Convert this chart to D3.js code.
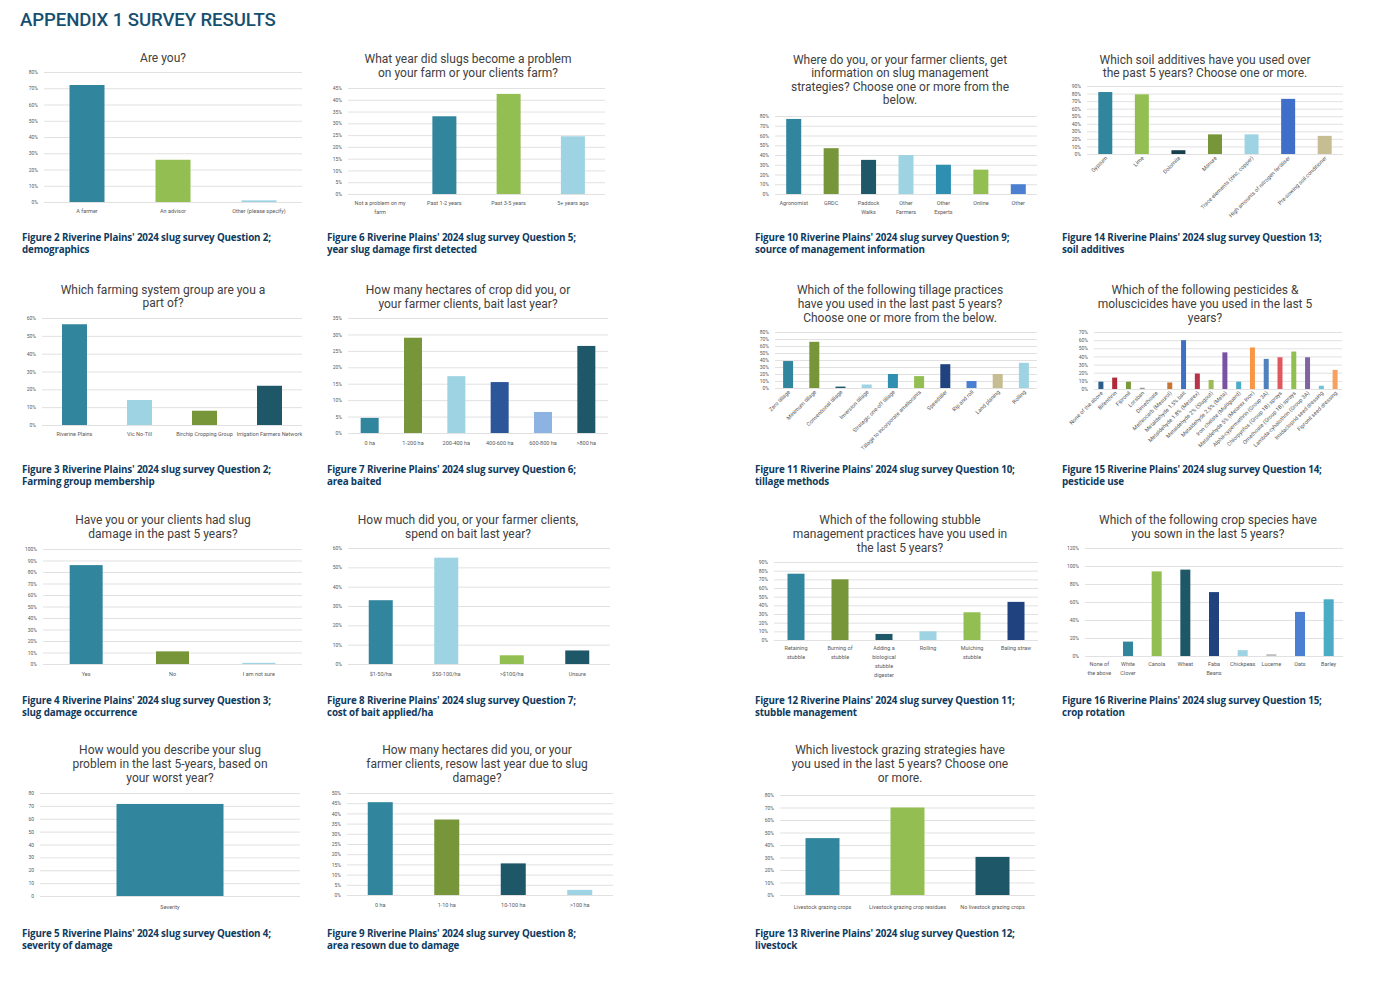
<!DOCTYPE html>
<meta charset="utf-8">
<head>
  <style>
    body { margin: 0; background: #fff; }
    svg text { font-family: Roboto, "Open Sans", sans-serif; }
    .main-title { font-size: 18.6px; font-weight: 500; fill: #174f70; letter-spacing: -0.1px; }
    .ttl { font-size: 12px; fill: #404040; }
    .cap { font-family: "Open Sans", Roboto, sans-serif !important; font-size: 9.8px; font-weight: 700; fill: #0e3a5e; letter-spacing: -0.15px; }
    .ytick { font-size: 5px; fill: #595959; }
    .xlab { font-size: 5.5px; fill: #595959; }
  </style>
</head>
<body>
  <script src="https://d3js.org/d3.v7.min.js"></script>
  <div id="chart"></div>
  <script>

    var width = 1374,
      height = 986;

    // ---- survey data (percent of respondents) ----
    const q2Cats = ["A farmer", "An advisor", "Other (please specify)"];
    const q2Vals = [72, 26, 1];

    const q5Cats = ["Not a problem on my farm", "Past 1-2 years", "Past 3-5 years", "5+ years ago"];
    const q5Vals = [0, 33, 42.5, 24.5];

    const q9Cats = ["Agronomist", "GRDC", "Paddock Walks", "Other Farmers", "Other Experts", "Online", "Other"];
    const q9Vals = [77, 47, 35, 40, 30, 25, 10];

    const q13Cats = ["Gypsum", "Lime", "Dolomite", "Manure", "Trace elements (zinc, copper)",
      "High amounts of nitrogen fertiliser", "Pre-sowing soil conditioner"];
    const q13Vals = [82, 79, 5, 26, 26, 73, 24];

    const grpCats = ["Riverine Plains", "Vic No-Till", "Birchip Cropping Group", "Irrigation Farmers Network"];
    const grpVals = [56.5, 14, 8, 22];

    const q6Cats = ["0 ha", "1-200 ha", "200-400 ha", "400-600 ha", "600-800 ha", ">800 ha"];
    const q6Vals = [4.6, 29, 17.3, 15.5, 6.4, 26.5];

    const q10Cats = ["Zero tillage", "Minimum tillage", "Conventional tillage", "Inversion tillage",
      "Strategic one-off tillage", "Tillage to incorporate ameliorants", "Speedtiller", "Rip and roll",
      "Land planing", "Rolling"];
    const q10Vals = [38.5, 66, 2, 5, 20, 17, 34, 10, 20, 36];

    const q14Cats = ["None of the above", "Bifenthrin", "Fipronil", "Lorsban", "Dimethoate",
      "Methiocarb (Mesurol)", "Metaldehyde 1.5% bait", "Metaldehyde 1.8% (Metarex)",
      "Metaldehyde 2% (Slugout)", "Metaldehyde 2.5% (Meta)", "Iron chelate (Multiguard)",
      "Metaldehyde 5% (Metarex Inov)", "Alpha-cypermethrin (Group 3A)", "Chlorpyrifos (Group 1B) sprays",
      "Omethoate (Group 1B) sprays", "Lambda-cyhalothrin (Group 3A)", "Imidacloprid seed dressing",
      "Fipronil seed dressing"];
    const q14Vals = [9, 14, 9, 1.5, 0, 8, 60, 19, 11, 45, 9, 51, 37, 39, 46, 39, 4, 23.5];

    const q3Cats = ["Yes", "No", "I am not sure"];
    const q3Vals = [86, 11, 1];

    const q7Cats = ["$1-50/ha", "$50-100/ha", ">$100/ha", "Unsure"];
    const q7Vals = [33, 55, 4.5, 7];

    const q11Cats = ["Retaining stubble", "Burning of stubble", "Adding a biological stubble digester",
      "Rolling", "Mulching stubble", "Baling straw"];
    const q11Vals = [76.5, 70, 7, 10, 32, 44];

    const q15Cats = ["None of the above", "White Clover", "Canola", "Wheat", "Faba Beans", "Chickpeas",
      "Lucerne", "Oats", "Barley"];
    const q15Vals = [0, 16, 94, 96, 71, 6.5, 2, 49, 63];

    const q4Cats = ["Severity"];
    const q4Vals = [71.5];

    const q8Cats = ["0 ha", "1-10 ha", "10-100 ha", ">100 ha"];
    const q8Vals = [45.5, 37, 15.5, 2.5];

    const q12Cats = ["Livestock grazing crops", "Livestock grazing crop residues", "No livestock grazing crops"];
    const q12Vals = [45.5, 70, 30.5];

    // ---- colours ----
    var TEAL = "#31859c", LGREEN = "#93bf52", LBLUE = "#9dd3e2", DTEAL = "#1e5767",
      OLIVE = "#77963a", NAVY = "#20427f", BLUE = "#4a7fd1", LBLUE2 = "#8db3e2",
      TAN = "#c6bd93", TEAL2 = "#2f8fb0", GREY = "#bfbfbf";

    var pestColors = ["#2a5d8a", "#b22a3a", "#7a9a3a", "#999999", "#999999", "#c87533", "#3d6fc4",
      "#b8324a", "#9bbb59", "#7b52a3", "#4bacc6", "#f79646", "#4f81bd", "#e0595f", "#8fc050",
      "#8064a2", "#6cc3dc", "#f8a060"];

    function cap(fig, q, what) {
      return ["Figure " + fig + " Riverine Plains' 2024 slug survey Question " + q + ";", what];
    }

    // caption rows (first line y per row of panels)
    var CAP1 = 238, CAP2 = 470, CAP3 = 701, CAP4 = 934;

    // layout: box = [left, right, top(max tick), bottom(zero)]
    var charts = [
      { title: ["Are you?"], tx: 163, ty: [58], cats: q2Cats, vals: q2Vals, max: 80, step: 10,
        box: [44, 302, 72, 202], barW: 35, colors: [TEAL, LGREEN, LBLUE], mode: "wrap", wrapW: 80, ly: 211,
        caption: cap(2, 2, "demographics"), cx: 22, cy: CAP1 },
      { title: ["What year did slugs become a problem", "on your farm or your clients farm?"], tx: 468, ty: [59, 73],
        cats: q5Cats, vals: q5Vals, max: 45, step: 5, box: [348, 605, 88, 194], barW: 24,
        colors: [TEAL, TEAL, LGREEN, LBLUE], mode: "wrap", wrapW: 62, ly: 203,
        caption: cap(6, 5, "year slug damage first detected"), cx: 327, cy: CAP1 },
      { title: ["Where do you, or your farmer clients, get", "information on slug management",
        "strategies? Choose one or more from the", "below."], tx: 900, ty: [60, 73, 87, 100],
        cats: q9Cats, vals: q9Vals, max: 80, step: 10, box: [775, 1037, 116, 194], barW: 15,
        colors: [TEAL, OLIVE, DTEAL, LBLUE, TEAL2, LGREEN, BLUE], mode: "wrap", wrapW: 28, ly: 203,
        caption: cap(10, 9, "source of management information"), cx: 755, cy: CAP1 },
      { title: ["Which soil additives have you used over", "the past 5 years? Choose one or more."], tx: 1205, ty: [60, 73],
        cats: q13Cats, vals: q13Vals, max: 90, step: 10, box: [1087, 1343, 86, 154], barW: 14,
        colors: [TEAL, LGREEN, "#17404d", OLIVE, LBLUE, "#3f6fc9", TAN], mode: "rot", ly: 157,
        caption: cap(14, 13, "soil additives"), cx: 1062, cy: CAP1 },

      { title: ["Which farming system group are you a", "part of?"], tx: 163, ty: [290, 303],
        cats: grpCats, vals: grpVals, max: 60, step: 10, box: [42, 302, 318, 425], barW: 25,
        colors: [TEAL, LBLUE, OLIVE, DTEAL], mode: "wrap", wrapW: 66, ly: 434,
        caption: cap(3, 2, "Farming group membership"), cx: 22, cy: CAP2 },
      { title: ["How many hectares of crop did you, or", "your farmer clients, bait last year?"], tx: 468, ty: [290, 304],
        cats: q6Cats, vals: q6Vals, max: 35, step: 5, box: [348, 608, 318, 433], barW: 18,
        colors: [TEAL, OLIVE, LBLUE, "#2c5697", LBLUE2, DTEAL], mode: "wrap", wrapW: 42, ly: 443,
        caption: cap(7, 6, "area baited"), cx: 327, cy: CAP2 },
      { title: ["Which of the following tillage practices", "have you used in the last past 5 years?",
        "Choose one or more from the below."], tx: 900, ty: [290, 304, 318],
        cats: q10Cats, vals: q10Vals, max: 80, step: 10, box: [775, 1037, 332, 388], barW: 10,
        colors: [TEAL, OLIVE, DTEAL, LBLUE, TEAL2, LGREEN, NAVY, BLUE, TAN, LBLUE], mode: "rot", ly: 391,
        caption: cap(11, 10, "tillage methods"), cx: 755, cy: CAP2 },
      { title: ["Which of the following pesticides &", "moluscicides have you used in the last 5", "years?"],
        tx: 1205, ty: [290, 304, 318], cats: q14Cats, vals: q14Vals, max: 70, step: 10,
        box: [1094, 1342, 332, 389], barW: 5, colors: pestColors, mode: "rot", ly: 392,
        caption: cap(15, 14, "pesticide use"), cx: 1062, cy: CAP2 },

      { title: ["Have you or your clients had slug", "damage in the past 5 years?"], tx: 163, ty: [520, 534],
        cats: q3Cats, vals: q3Vals, max: 100, step: 10, box: [43, 302, 549, 664], barW: 33,
        colors: [TEAL, OLIVE, LBLUE], mode: "wrap", wrapW: 80, ly: 674,
        caption: cap(4, 3, "slug damage occurrence"), cx: 22, cy: CAP3 },
      { title: ["How much did you, or your farmer clients,", "spend on bait last year?"], tx: 468, ty: [520, 534],
        cats: q7Cats, vals: q7Vals, max: 60, step: 10, box: [348, 610, 548, 664], barW: 24,
        colors: [TEAL, LBLUE, LGREEN, DTEAL], mode: "wrap", wrapW: 60, ly: 674,
        caption: cap(8, 7, "cost of bait applied/ha"), cx: 327, cy: CAP3 },
      { title: ["Which of the following stubble", "management practices have you used in", "the last 5 years?"],
        tx: 900, ty: [520, 534, 548], cats: q11Cats, vals: q11Vals, max: 90, step: 10,
        box: [774, 1038, 562, 640], barW: 17, colors: [TEAL, OLIVE, DTEAL, LBLUE, LGREEN, NAVY],
        mode: "wrap", wrapW: 36, ly: 648,
        caption: cap(12, 11, "stubble management"), cx: 755, cy: CAP3 },
      { title: ["Which of the following crop species have", "you sown in the last 5 years?"], tx: 1208, ty: [520, 534],
        cats: q15Cats, vals: q15Vals, max: 120, step: 20, box: [1085, 1343, 548, 656], barW: 10,
        colors: [TEAL, TEAL, LGREEN, DTEAL, NAVY, LBLUE, GREY, BLUE, "#4bacc6"], mode: "wrap", wrapW: 24, ly: 664,
        caption: cap(16, 15, "crop rotation"), cx: 1062, cy: CAP3 },

      { title: ["How would you describe your slug", "problem in the last 5-years, based on", "your worst year?"],
        tx: 170, ty: [750, 764, 778], cats: q4Cats, vals: q4Vals, max: 80, step: 10, pct: false,
        box: [40, 300, 793, 896], barW: 107, colors: [TEAL], mode: "wrap", wrapW: 80, ly: 907,
        caption: cap(5, 4, "severity of damage"), cx: 22, cy: CAP4 },
      { title: ["How many hectares did you, or your", "farmer clients, resow last year due to slug", "damage?"],
        tx: 477, ty: [750, 764, 778], cats: q8Cats, vals: q8Vals, max: 50, step: 5,
        box: [347, 613, 793, 895], barW: 25, colors: [TEAL, OLIVE, DTEAL, LBLUE], mode: "wrap", wrapW: 60, ly: 905,
        caption: cap(9, 8, "area resown due to damage"), cx: 327, cy: CAP4 },
      { title: ["Which livestock grazing strategies have", "you used in the last 5 years? Choose one", "or more."],
        tx: 900, ty: [750, 764, 778], cats: q12Cats, vals: q12Vals, max: 80, step: 10,
        box: [780, 1035, 795, 895], barW: 34, colors: [TEAL, LGREEN, DTEAL], mode: "wrap", wrapW: 95, ly: 907,
        caption: cap(13, 12, "livestock"), cx: 755, cy: CAP4 }
    ];

    var svg = d3.select('#chart')
      .append('svg')
      .attr('width', width)
      .attr('height', height);

    svg.append('text')
      .attr('class', 'main-title')
      .attr('x', 20)
      .attr('y', 25.5)
      .text('APPENDIX 1 SURVEY RESULTS');

    // word wrap for category labels, lines 9px apart
    function wrap(text, w, first, lh) {
      text.each(function () {
        var t = d3.select(this),
          words = t.text().split(/\s+/),
          line = [],
          n = 0;
        t.text(null);
        var tspan = t.append('tspan').attr('x', 0).attr('y', first).attr('dy', '0.35em');
        words.forEach(function (word) {
          line.push(word);
          tspan.text(line.join(' '));
          if (tspan.node().getComputedTextLength() > w && line.length > 1) {
            line.pop();
            tspan.text(line.join(' '));
            line = [word];
            n++;
            tspan = t.append('tspan').attr('x', 0).attr('y', first + n * lh).attr('dy', '0.35em').text(word);
          }
        });
      });
    }

    function drawChart(c) {
      var left = c.box[0], right = c.box[1], top = c.box[2], bottom = c.box[3];
      var g = svg.append('g');

      var y = d3.scaleLinear().domain([0, c.max]).range([bottom, top]);
      var step = (right - left) / c.cats.length;
      var pad = 1 - c.barW / step;
      var x = d3.scaleBand()
        .domain(c.cats)
        .range([left, right])
        .paddingInner(pad)
        .paddingOuter(pad / 2);

      var ticks = d3.range(0, c.max + c.step / 2, c.step);

      // y axis with gridlines
      var yAxis = g.append('g')
        .attr('transform', 'translate(' + left + ',0)')
        .call(d3.axisLeft(y)
          .tickValues(ticks)
          .tickSize(-(right - left))
          .tickPadding(6)
          .tickFormat(function (d) { return c.pct === false ? d : d + '%'; }));
      yAxis.attr('font-size', null).attr('font-family', null);
      yAxis.select('.domain').remove();
      yAxis.selectAll('.tick line').attr('stroke', '#d9d9d9').attr('stroke-width', 0.8);
      yAxis.selectAll('.tick text').attr('class', 'ytick').attr('fill', null);

      // bars
      g.selectAll('rect')
        .data(c.vals)
        .enter()
        .append('rect')
        .attr('x', function (d, i) { return x(c.cats[i]); })
        .attr('width', x.bandwidth())
        .attr('y', function (d) { return y(d); })
        .attr('height', function (d) { return bottom - y(d); })
        .attr('fill', function (d, i) { return c.colors[i]; });

      // x axis labels
      var xAxis = g.append('g')
        .attr('transform', 'translate(0,' + bottom + ')')
        .call(d3.axisBottom(x).tickSize(0).tickPadding(0));
      xAxis.attr('font-size', null).attr('font-family', null);
      xAxis.select('.domain').remove();
      var labels = xAxis.selectAll('.tick text').attr('class', 'xlab').attr('fill', null);

      if (c.mode === 'rot') {
        labels
          .attr('x', 0)
          .attr('y', 0)
          .attr('dy', '0.35em')
          .attr('text-anchor', 'end')
          .attr('transform', 'translate(1,' + (c.ly - bottom) + ') rotate(-45)');
      } else {
        labels.attr('dy', null);
        wrap(labels, c.wrapW, c.ly - bottom, 9);
      }

      // title
      g.selectAll('text.ttl')
        .data(c.title)
        .enter()
        .append('text')
        .attr('class', 'ttl')
        .attr('x', c.tx)
        .attr('y', function (d, i) { return c.ty[i]; })
        .attr('dy', '0.35em')
        .attr('text-anchor', 'middle')
        .text(function (d) { return d; });

      // caption, two lines 12px apart
      g.selectAll('text.cap')
        .data(c.caption)
        .enter()
        .append('text')
        .attr('class', 'cap')
        .attr('x', c.cx)
        .attr('y', function (d, i) { return c.cy + i * 12; })
        .attr('dy', '0.35em')
        .text(function (d) { return d; });
    }

    charts.forEach(drawChart);
  </script>
</body>
